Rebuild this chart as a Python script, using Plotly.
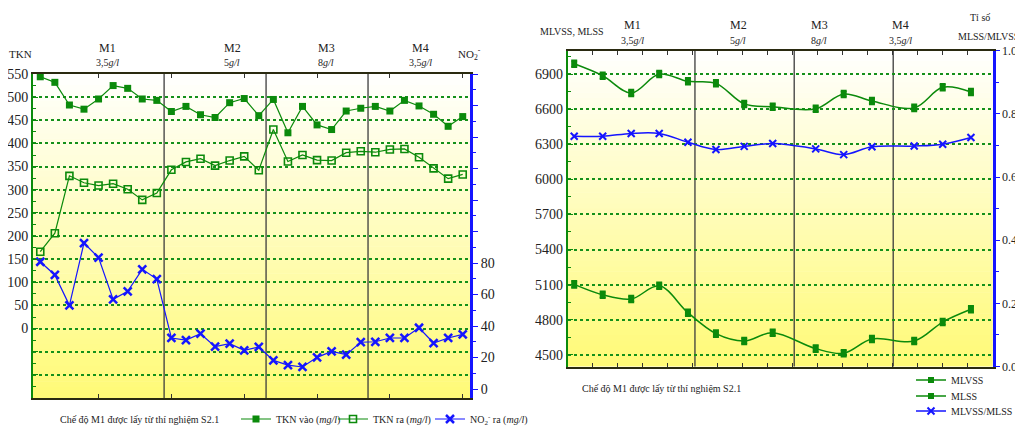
import plotly.graph_objects as go

W, H = 1023, 427        # browser window
OFF = 8                 # default page body margin
FW, FH = W - OFF, H - OFF

# ---------------- data: left chart ----------------
sample_left = list(range(1, 31))
tkn_in = [544, 532, 483, 474, 496, 525, 519, 496, 493,
          469, 480, 462, 456, 488, 497, 460,
          495, 423, 480, 440, 430, 470, 476,
          480, 470, 493, 481, 463, 437, 458]
tkn_out = [166, 206, 330, 315, 309, 313, 301, 278, 293,
           343, 360, 367, 352, 363, 372, 342,
           430, 361, 375, 364, 363, 380, 383,
           381, 387, 388, 370, 346, 324, 333]
no2_out = [80.8, 72.4, 53.1, 92.7, 83.4, 56.9, 62, 76, 69.8,
           32.4, 31.1, 35.1, 26.9, 28.8, 24.6, 26.7,
           18.2, 15.2, 14.0, 20.1, 23.9, 21.8, 29.7,
           30.0, 32.4, 32.4, 38.9, 29.2, 32.4, 34.7]
left_phase_bounds = [9.5, 16.5, 23.5]
left_y_ticks = list(range(-100, 551, 50))
left_y2_ticks = list(range(0, 201, 20))

# ---------------- data: right chart ----------------
day_right = [0.26, 1.40, 2.54, 3.66, 4.81, 5.93, 7.06, 8.20, 9.92, 11.04, 12.17, 13.86, 15.0, 16.13]
mlss = [6988, 6886, 6738, 6900, 6838, 6821, 6645, 6620, 6603, 6730, 6670, 6611, 6787, 6747]
mlvss = [5102, 5013, 4977, 5090, 4860, 4681, 4618, 4689, 4553, 4513, 4635, 4618, 4780, 4889]
ratio = [0.729, 0.729, 0.738, 0.738, 0.710, 0.687, 0.697, 0.706, 0.689, 0.671, 0.696, 0.698, 0.704, 0.725]
right_phase_bounds = [5.09, 9.06, 13.02]
right_y_ticks = list(range(4500, 6901, 300))
right_y2_ticks = [0.0, 0.2, 0.4, 0.6, 0.8, 1.0]

phase_names = ["M1", "M2", "M3", "M4"]
phase_conc = ["3,5<i>g/l</i>", "5<i>g/l</i>", "8<i>g/l</i>", "3,5<i>g/l</i>"]
caption = "Chế độ M1 được lấy từ thí nghiệm S2.1"

GREEN = "#0b8a0b"
BLUE = "#1515ff"
FONT = "Liberation Serif, Times New Roman, serif"


def px(x):
    return (x - OFF) / FW


def py(y):
    return 1 - (y - OFF) / FH


fig = go.Figure()

# ---- left traces ----
fig.add_trace(go.Scatter(
    x=sample_left, y=tkn_in, name="TKN vào (<i>mg/l</i>)", mode="lines+markers",
    line=dict(color=GREEN, width=1.2), marker=dict(symbol="square", size=7, color=GREEN),
    xaxis="x", yaxis="y", legend="legend"))
fig.add_trace(go.Scatter(
    x=sample_left, y=tkn_out, name="TKN ra (<i>mg/l</i>)", mode="lines+markers",
    line=dict(color=GREEN, width=1.2),
    marker=dict(symbol="square-open", size=7, color=GREEN, line=dict(width=1.6)),
    xaxis="x", yaxis="y", legend="legend2"))
fig.add_trace(go.Scatter(
    x=sample_left, y=no2_out, name="NO<sub>2</sub><sup>-</sup> ra (<i>mg/l</i>)", mode="lines+markers",
    line=dict(color=BLUE, width=1.2),
    marker=dict(symbol="x-thin", size=8, color=BLUE, line=dict(width=2.5, color=BLUE)),
    xaxis="x", yaxis="y2", legend="legend3"))

# ---- right traces ----
fig.add_trace(go.Scatter(
    x=day_right, y=mlvss, name="MLVSS", mode="lines+markers",
    line=dict(color=GREEN, width=1.5, shape="spline", smoothing=1.0),
    marker=dict(symbol="square", size=6, color=GREEN),
    error_y=dict(type="constant", value=28, color=GREEN, thickness=2, width=3),
    xaxis="x2", yaxis="y3", legend="legend4"))
fig.add_trace(go.Scatter(
    x=day_right, y=mlss, name="MLSS", mode="lines+markers",
    line=dict(color=GREEN, width=1.5, shape="spline", smoothing=1.0),
    marker=dict(symbol="square", size=6, color=GREEN),
    error_y=dict(type="constant", value=28, color=GREEN, thickness=2, width=3),
    xaxis="x2", yaxis="y3", legend="legend5"))
fig.add_trace(go.Scatter(
    x=day_right, y=ratio, name="MLVSS/MLSS", mode="lines+markers",
    line=dict(color=BLUE, width=1.5, shape="spline", smoothing=1.0),
    marker=dict(symbol="x-thin", size=7, color=BLUE, line=dict(width=2, color=BLUE)),
    xaxis="x2", yaxis="y4", legend="legend6"))

# ---- gradient backgrounds ----
shapes = []
N = 60
for xr, yr in (("x domain", "y domain"), ("x2 domain", "y3 domain")):
    for k in range(N):
        t = (k + 0.5) / N  # 0 bottom -> 1 top
        g = round(250 + (255 - 250) * t)
        b = round(118 + (255 - 118) * t)
        shapes.append(dict(type="rect", xref=xr, yref=yr, x0=0, x1=1,
                           y0=k / N, y1=(k + 1) / N + 0.002,
                           fillcolor=f"rgb(255,{g},{b})", line=dict(width=0), layer="below"))

for b in left_phase_bounds:
    shapes.append(dict(type="line", xref="x", yref="y domain", x0=b, x1=b, y0=0, y1=1,
                       line=dict(color="#3c3c3c", width=1.3), layer="below"))
for b in right_phase_bounds:
    shapes.append(dict(type="line", xref="x2", yref="y3 domain", x0=b, x1=b, y0=0, y1=1,
                       line=dict(color="#3c3c3c", width=1.3), layer="below"))

# ---- annotations ----
ann = []
TF = dict(family=FONT, size=12, color="#222")
SF = dict(family=FONT, size=10, color="#222")


def add_text(x, y, text, font=TF, xanchor="center"):
    ann.append(dict(x=px(x), y=py(y), xref="paper", yref="paper", text=text, showarrow=False,
                    font=font, xanchor=xanchor, yanchor="middle"))


add_text(20, 54, "TKN", dict(family=FONT, size=11, color="#222"))
add_text(469, 54, "NO<sub>2</sub><sup>-</sup>", dict(family=FONT, size=11, color="#222"))
for xp, n, c in zip([107, 232, 326, 420], phase_names, phase_conc):
    add_text(xp, 48, n)
    add_text(xp, 62, c, SF)
add_text(139, 419, caption, SF)

add_text(572, 32, "MLVSS, MLSS", SF)
for xp, n, c in zip([632, 738, 819, 900], phase_names, phase_conc):
    add_text(xp, 25, n)
    add_text(xp, 40, c, SF)
add_text(980, 17, "Tỉ số", SF)
add_text(1021, 37, "MLSS/MLVSS", SF, xanchor="right")
add_text(661, 388, caption, SF)

grid = dict(showgrid=True, gridcolor="#14901a", griddash="dot", gridwidth=1.5)
tickfont = dict(family=FONT, size=14, color="#222")


def one_legend(x_text, y_mid, size):
    return dict(orientation="v", x=px(x_text - 41), y=py(y_mid), xanchor="left", yanchor="middle",
                font=dict(family=FONT, size=size, color="#222"), bgcolor="rgba(0,0,0,0)",
                itemwidth=30, tracegroupgap=0)


fig.update_layout(
    width=FW, height=FH,
    showlegend=True,
    margin=dict(l=0, r=0, t=0, b=0, autoexpand=False),
    paper_bgcolor="white", plot_bgcolor="rgba(0,0,0,0)",
    font=dict(family=FONT, size=12, color="#222"),
    shapes=shapes, annotations=ann,
    xaxis=dict(domain=[px(33), px(470)], range=[0.5, 30.5], anchor="y", automargin=False,
               tickvals=[5, 10, 15, 20, 25, 30], showticklabels=False,
               ticks="inside", ticklen=4, tickcolor="#333",
               showline=True, linecolor="#2a2a10", linewidth=2, mirror="ticks",
               showgrid=False, zeroline=False),
    yaxis=dict(domain=[py(398), py(74)], range=[-150, 550], anchor="x", automargin=False,
               tickmode="array", tickvals=left_y_ticks,
               ticktext=[str(v) if v >= 0 else "" for v in left_y_ticks],
               ticks="inside", ticklen=5, tickcolor=GREEN, tickfont=tickfont,
               minor=dict(tickmode="linear", tick0=0, dtick=25, ticks="inside", ticklen=3,
                          tickcolor=GREEN, showgrid=False),
               showline=True, linecolor=GREEN, linewidth=2, zeroline=False, **grid),
    yaxis2=dict(range=[-5.7, 200], overlaying="y", side="right", anchor="x", automargin=False,
                tickmode="array", tickvals=left_y2_ticks,
                ticktext=[str(v) if v <= 80 else "" for v in left_y2_ticks],
                ticks="outside", ticklen=5, tickcolor=BLUE, tickfont=tickfont,
                minor=dict(tickmode="linear", tick0=0, dtick=10, ticks="outside", ticklen=3,
                           tickcolor=BLUE, showgrid=False),
                showline=True, linecolor=BLUE, linewidth=3, showgrid=False, zeroline=False),
    xaxis2=dict(domain=[px(567.7), px(992.7)], range=[0, 17], anchor="y3", automargin=False,
                tickmode="linear", tick0=0, dtick=1, showticklabels=False,
                ticks="inside", ticklen=4, tickcolor="#333",
                showline=True, linecolor="#2a2a10", linewidth=2, mirror="ticks",
                showgrid=False, zeroline=False),
    yaxis3=dict(domain=[py(366.5), py(50.7)], range=[4400, 7100], anchor="x2", automargin=False,
                tickmode="array", tickvals=right_y_ticks, ticktext=[str(v) for v in right_y_ticks],
                ticks="inside", ticklen=5, tickcolor=GREEN, tickfont=tickfont,
                minor=dict(tickmode="linear", tick0=4500, dtick=150, ticks="inside", ticklen=3,
                           tickcolor=GREEN, showgrid=False),
                showline=True, linecolor=GREEN, linewidth=2, zeroline=False, **grid),
    yaxis4=dict(range=[0, 1.0], overlaying="y3", side="right", anchor="x2", automargin=False,
                tickmode="array", tickvals=right_y2_ticks,
                ticktext=[f"{v:.1f}" for v in right_y2_ticks],
                ticks="outside", ticklen=4, tickcolor=BLUE,
                tickfont=dict(family=FONT, size=12, color="#222"),
                minor=dict(tickmode="linear", tick0=0, dtick=0.1, ticks="outside", ticklen=3,
                           tickcolor=BLUE, showgrid=False),
                showline=True, linecolor=BLUE, linewidth=3, showgrid=False, zeroline=False),
    legend=one_legend(277, 419, 10),
    legend2=one_legend(374, 419, 10),
    legend3=one_legend(471, 419, 10),
    legend4=one_legend(952, 380, 10),
    legend5=one_legend(952, 396, 10),
    legend6=one_legend(952, 411, 10),
)

fig.write_html("out.html")
